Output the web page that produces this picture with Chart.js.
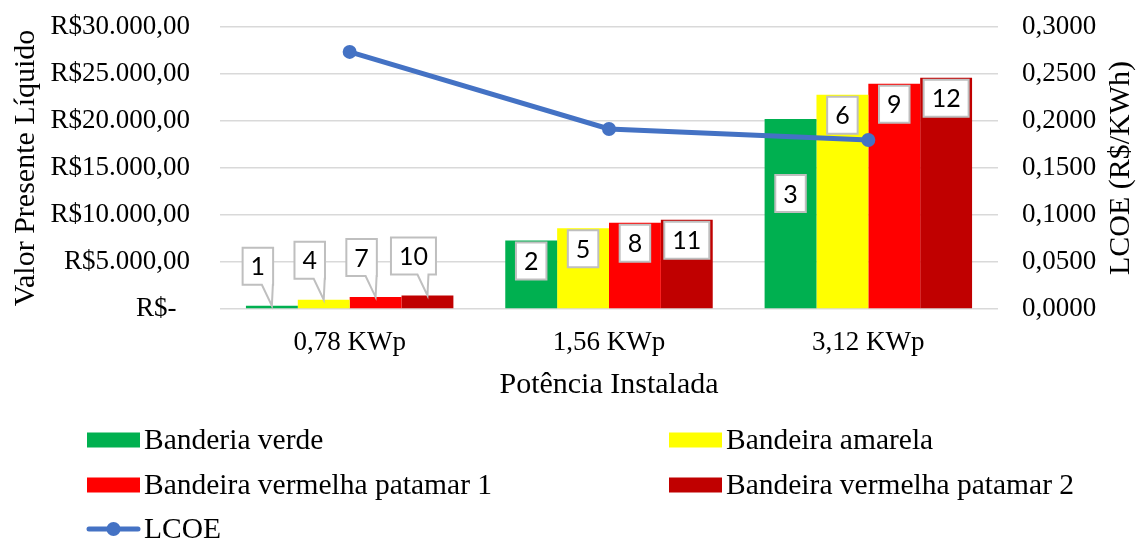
<!DOCTYPE html>
<html>
<head>
<meta charset="utf-8">
<script src="https://cdn.jsdelivr.net/npm/chart.js@4.4.1/dist/chart.umd.min.js"></script>
<style>
  html, body { margin: 0; padding: 0; background: #fff; }
  #wrap { width: 1136px; height: 539px; }
</style>
</head>
<body>
<div id="wrap"><canvas id="c" width="1136" height="539"></canvas></div>
<script>
// ---- data ----
const categories = ['0,78 KWp', '1,56 KWp', '3,12 KWp'];
const bandeiraVerde = [350, 7300, 20200];
const bandeiraAmarela = [980, 8600, 22800];
const bandeiraVermelha1 = [1270, 9180, 23970];
const bandeiraVermelha2 = [1440, 9500, 24600];
const lcoeValues = [0.2735, 0.1915, 0.1798];

const calloutVerde = ['1', '2', '3'];
const calloutAmarela = ['4', '5', '6'];
const calloutVermelha1 = ['7', '8', '9'];
const calloutVermelha2 = ['10', '11', '12'];

const leftTickLabels = ['R$-  ', 'R$5.000,00', 'R$10.000,00', 'R$15.000,00', 'R$20.000,00', 'R$25.000,00', 'R$30.000,00'];
const rightTickLabels = ['0,0000', '0,0500', '0,1000', '0,1500', '0,2000', '0,2500', '0,3000'];

const seriesNames = ['Banderia verde', 'Bandeira amarela', 'Bandeira vermelha patamar 1', 'Bandeira vermelha patamar 2', 'LCOE'];

// ---- styles ----
const SERIF = '"Liberation Serif", "Times New Roman", serif';
const TICK_SIZE = 27;
const TITLE_SIZE = 30;
const LEGEND_SIZE = 29.5;

const calloutPlugin = {
  id: 'callouts',
  afterDatasetsDraw(chart, args, opts) {
    const ctx = chart.ctx;
    ctx.save();
    ctx.font = opts.font;
    ctx.textAlign = 'center';
    ctx.textBaseline = 'middle';
    chart.data.datasets.forEach((ds, di) => {
      if (!ds.callouts) return;
      const meta = chart.getDatasetMeta(di);
      meta.data.forEach((bar, i) => {
        const text = ds.callouts[i];
        const w = ctx.measureText(text).width + 2 * opts.padX;
        const h = opts.boxH;
        let cx, top, tip = null;
        if (bar.base - bar.y < opts.minInside) {
          cx = bar.x - opts.calloutShift;
          top = bar.y - opts.calloutGap - h;
          tip = { x: bar.x, y: bar.y };
        } else {
          cx = bar.x;
          top = bar.y + opts.insideGap + ((opts.nudge[di + ':' + i]) || 0);
        }
        const l = cx - w / 2, r = cx + w / 2, b = top + h;
        ctx.beginPath();
        ctx.moveTo(l, top);
        ctx.lineTo(r, top);
        ctx.lineTo(r, b);
        if (tip) {
          const wr = Math.min(r, tip.x + 1);
          const wl = tip.x - 10;
          ctx.lineTo(wr, b);
          ctx.lineTo(tip.x, tip.y);
          ctx.lineTo(wl, b);
        }
        ctx.lineTo(l, b);
        ctx.closePath();
        ctx.fillStyle = '#ffffff';
        ctx.fill();
        ctx.lineWidth = 2;
        ctx.strokeStyle = '#bfbfbf';
        ctx.stroke();
        ctx.fillStyle = '#000000';
        ctx.fillText(text, cx, top + h / 2 + 1);
      });
    });
    ctx.restore();
  }
};

const extrasPlugin = {
  id: 'extras',
  afterDraw(chart, args, opts) {
    const ctx = chart.ctx;
    ctx.save();
    // right axis title (reads bottom to top)
    const ca = chart.chartArea;
    ctx.font = TITLE_SIZE + 'px ' + SERIF;
    ctx.fillStyle = '#000';
    ctx.textAlign = 'center';
    ctx.textBaseline = 'middle';
    ctx.translate(opts.rightTitleX, (ca.top + ca.bottom) / 2);
    ctx.rotate(-Math.PI / 2);
    ctx.fillText('LCOE (R$/KWh)', 0, 0);
    ctx.setTransform(1, 0, 0, 1, 0, 0);

    // legend
    ctx.font = LEGEND_SIZE + 'px ' + SERIF;
    ctx.textAlign = 'left';
    ctx.textBaseline = 'middle';
    [0, 1, 2, 3, 4].forEach((li, k) => {
      const ds = chart.data.datasets.find(d => d.legendIndex === li);
      const col = k % 2, row = Math.floor(k / 2);
      const x = opts.legendCols[col];
      const y = opts.legendRows[row];
      if (ds.type === 'line') {
        ctx.strokeStyle = ds.borderColor;
        ctx.lineWidth = 5;
        ctx.lineCap = 'round';
        ctx.beginPath();
        ctx.moveTo(x + 2, y);
        ctx.lineTo(x + opts.swatchW - 2, y);
        ctx.stroke();
        ctx.fillStyle = ds.borderColor;
        ctx.beginPath();
        ctx.arc(x + opts.swatchW / 2, y, 7, 0, Math.PI * 2);
        ctx.fill();
      } else {
        ctx.fillStyle = ds.backgroundColor;
        ctx.fillRect(x, y - opts.swatchH / 2, opts.swatchW, opts.swatchH);
      }
      ctx.fillStyle = '#000';
      ctx.fillText(ds.label, x + opts.swatchW + 4, y + 1);
    });
    ctx.restore();
  }
};

const barCommon = { type: 'bar', yAxisID: 'y', order: 2, borderWidth: 0, categoryPercentage: 0.8, barPercentage: 1.0 };

function fixVertical(width) {
  return function (s) { s.width = width; s.paddingTop = 0; s.paddingBottom = 0; };
}

new Chart(document.getElementById('c'), {
  data: {
    labels: categories,
    datasets: [
      Object.assign({}, barCommon, { label: seriesNames[0], data: bandeiraVerde, backgroundColor: '#00B050', callouts: calloutVerde, legendIndex: 0 }),
      Object.assign({}, barCommon, { label: seriesNames[1], data: bandeiraAmarela, backgroundColor: '#FFFF00', callouts: calloutAmarela, legendIndex: 1 }),
      Object.assign({}, barCommon, { label: seriesNames[2], data: bandeiraVermelha1, backgroundColor: '#FF0000', callouts: calloutVermelha1, legendIndex: 2 }),
      Object.assign({}, barCommon, { label: seriesNames[3], data: bandeiraVermelha2, backgroundColor: '#C00000', callouts: calloutVermelha2, legendIndex: 3 }),
      { type: 'line', label: seriesNames[4], data: lcoeValues, yAxisID: 'y1', order: 1, legendIndex: 4,
        borderColor: '#4472C4', backgroundColor: '#4472C4', borderWidth: 5, tension: 0,
        pointRadius: 7, pointHoverRadius: 7, pointBackgroundColor: '#4472C4', pointBorderWidth: 0 }
    ]
  },
  options: {
    responsive: false,
    animation: false,
    layout: { padding: { top: 27, bottom: 130, left: 0, right: 0 } },
    plugins: {
      legend: { display: false },
      tooltip: { enabled: false },
      callouts: {
        font: '25px Lato, "Liberation Sans", sans-serif',
        padX: 8, boxH: 37, minInside: 40, calloutShift: 14, calloutGap: 21, insideGap: 2,
        nudge: { '0:2': 54 }
      },
      extras: {
        rightTitleX: 1121,
        legendCols: [87, 669],
        legendRows: [440, 485, 529],
        swatchW: 53, swatchH: 15
      }
    },
    scales: {
      x: {
        grid: { display: false },
        border: { display: false },
        ticks: { font: { family: SERIF, size: TICK_SIZE }, color: '#000', padding: 10, maxRotation: 0 },
        title: { display: true, text: 'Potência Instalada', font: { family: SERIF, size: TITLE_SIZE }, color: '#000', padding: { top: 0, bottom: 6 } },
        afterFit(s) { s.height = 100; }
      },
      y: {
        position: 'left',
        min: 0, max: 30000,
        grid: { color: '#d9d9d9', lineWidth: 1.5, drawTicks: false },
        border: { display: false },
        ticks: { stepSize: 5000, font: { family: SERIF, size: TICK_SIZE }, color: '#000', padding: 30,
          callback: (v, i) => leftTickLabels[i] },
        title: { display: true, text: 'Valor Presente Líquido', font: { family: SERIF, size: TITLE_SIZE }, color: '#000', padding: { top: 8, bottom: 0 } },
        afterFit: fixVertical(220)
      },
      y1: {
        position: 'right',
        min: 0, max: 0.3,
        grid: { display: false, drawTicks: false },
        border: { display: false },
        ticks: { stepSize: 0.05, font: { family: SERIF, size: TICK_SIZE }, color: '#000', padding: 24,
          callback: (v, i) => rightTickLabels[i] },
        afterFit: fixVertical(138)
      }
    }
  },
  plugins: [calloutPlugin, extrasPlugin]
});
</script>
</body>
</html>
